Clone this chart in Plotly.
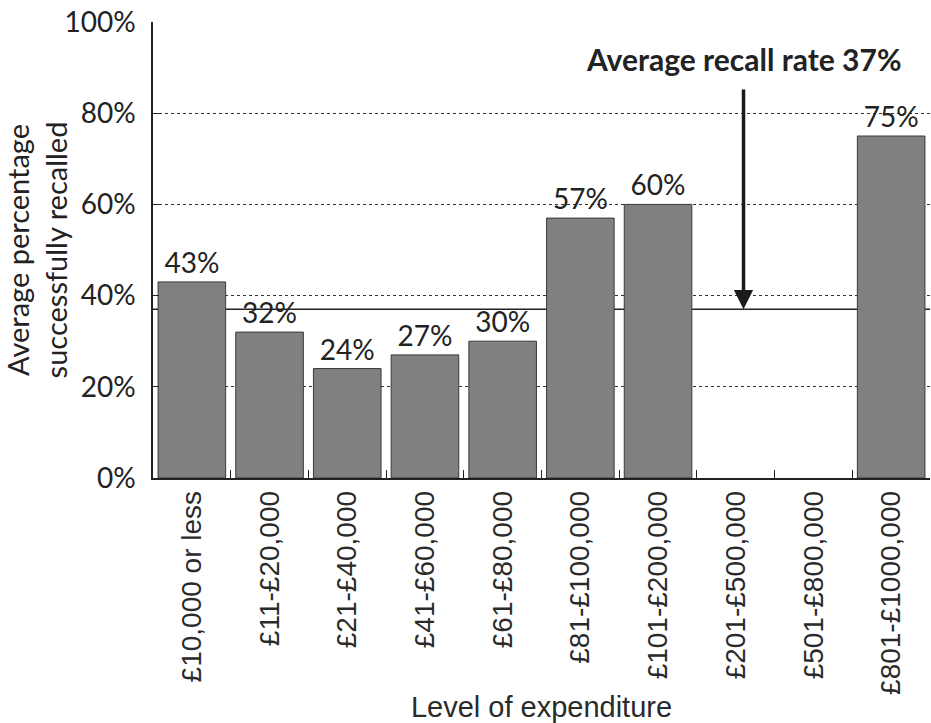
import plotly.graph_objects as go

categories = ["£10,000 or less", "£11-£20,000", "£21-£40,000", "£41-£60,000", "£61-£80,000",
              "£81-£100,000", "£101-£200,000", "£201-£500,000", "£501-£800,000", "£801-£1000,000"]
recall_pct = [43, 32, 24, 27, 30, 57, 60, None, None, 75]
average_recall = 37
y_ticks = [0, 20, 40, 60, 80, 100]
y_tick_text = [f"{v}%" for v in y_ticks]

HUMANIST = "Lato"
GROTESK = "Liberation Sans"
INK = "#222"

labels = [f"{v}%" if v is not None else "" for v in recall_pct]

fig = go.Figure()
fig.add_trace(go.Bar(
    x=categories,
    y=recall_pct,
    text=labels,
    textposition="outside",
    cliponaxis=False,
    textfont=dict(family=HUMANIST, size=28, color=INK),
    marker=dict(color="#808082", line=dict(color="#3a3a3a", width=1)),
))

# average line sits behind the bars
fig.add_shape(type="line", xref="paper", x0=0, x1=1, yref="y", y0=average_recall, y1=average_recall,
              line=dict(color=INK, width=1.5), layer="below")

fig.add_annotation(
    x=7.1, y=average_recall, xref="x", yref="y",
    ax=7.1, ay=85.5, axref="x", ayref="y",
    showarrow=True, arrowhead=2, arrowsize=1.1, arrowwidth=3.5, arrowcolor="#1a1a1a",
    text="",
)
fig.add_annotation(
    x=7.1, y=91.8, xref="x", yref="y",
    text=f"<b>Average recall rate {average_recall}%</b>",
    showarrow=False, font=dict(family=HUMANIST, size=30, color=INK),
    xanchor="center", yanchor="middle",
)

fig.update_layout(
    width=931, height=723,
    margin=dict(l=153, r=1, t=22, b=245),
    paper_bgcolor="white", plot_bgcolor="white",
    bargap=0.13,
    showlegend=False,
    font=dict(family=HUMANIST, color=INK),
)
fig.update_yaxes(
    range=[0, 100], tickvals=y_ticks, ticktext=y_tick_text,
    tickfont=dict(family=HUMANIST, size=28, color=INK),
    ticklabelstandoff=10,
    showgrid=True, gridcolor="#333", griddash="dot", gridwidth=1,
    showline=True, linecolor=INK, linewidth=1.5,
    ticks="inside", ticklen=6, tickcolor=INK,
    title=dict(text="Average percentage<br>successfully recalled",
               font=dict(family=HUMANIST, size=29, color=INK), standoff=8),
    zeroline=False, automargin=False,
)
fig.update_xaxes(
    tickangle=-90, tickson="boundaries", ticks="inside", ticklen=8, tickcolor=INK,
    tickfont=dict(family=GROTESK, size=28, color="#2a2a2a"),
    showline=True, linecolor=INK, linewidth=1.5,
    title=dict(text="Level of expenditure", font=dict(family=GROTESK, size=29, color="#2a2a2a"), standoff=6),
    range=[-0.5, 9.5], automargin=False,
)

fig.write_html("out.html")
